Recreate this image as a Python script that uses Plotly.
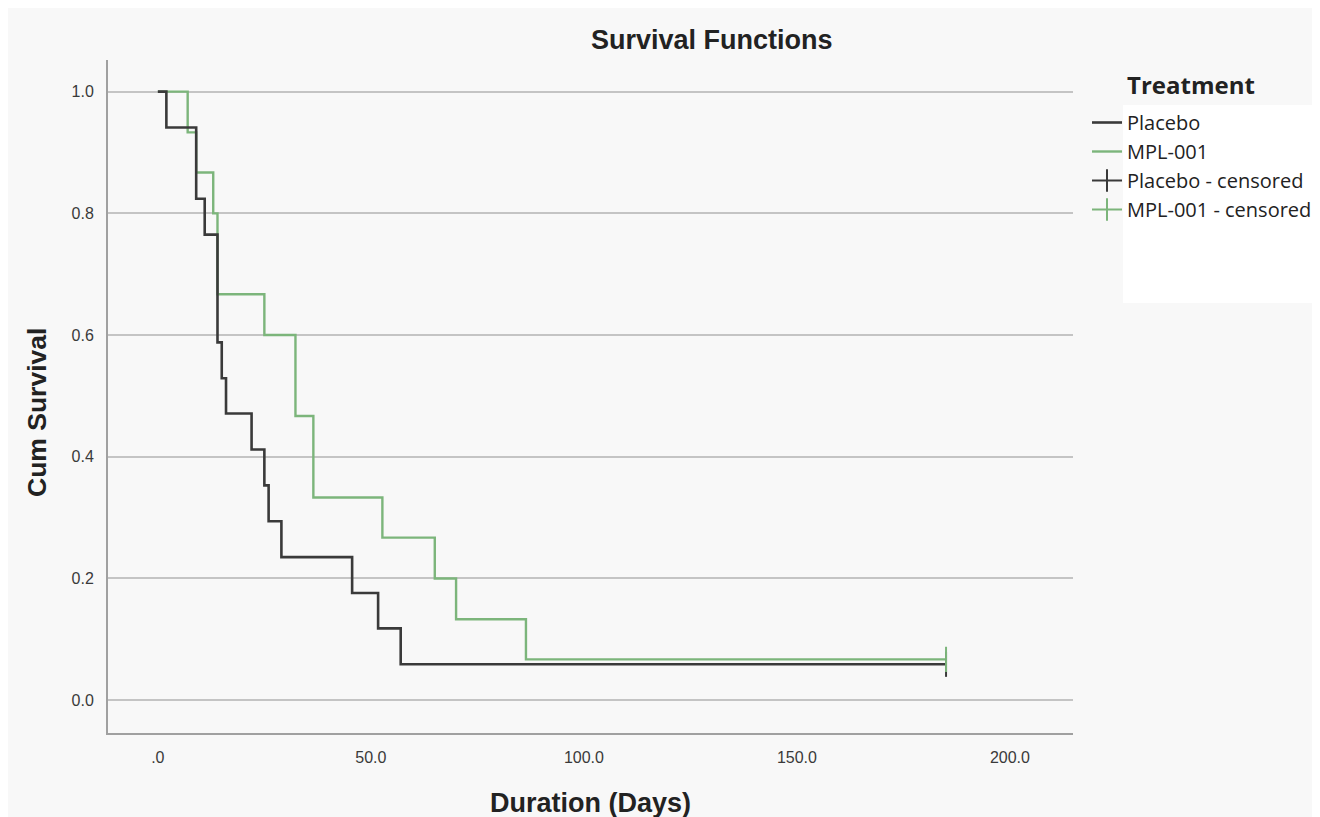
import plotly.graph_objects as go

# ---- data ----
placebo_times = [2, 9, 11, 14, 15, 16, 22, 25, 26, 29, 45.6, 51.7, 57]
placebo_surv = [0.941, 0.824, 0.765, 0.588, 0.529, 0.471, 0.412, 0.353, 0.294, 0.235, 0.176, 0.118, 0.059]
placebo_censor = [185]

mpl_times = [7, 9, 13, 14, 25, 32.3, 36.5, 52.7, 65, 70, 86.4]
mpl_surv = [0.933, 0.867, 0.800, 0.667, 0.600, 0.467, 0.333, 0.267, 0.200, 0.133, 0.067]
mpl_censor = [185]

x_tickvals = [0, 50, 100, 150, 200]
x_ticktext = [".0", "50.0", "100.0", "150.0", "200.0"]
y_tickvals = [0.0, 0.2, 0.4, 0.6, 0.8, 1.0]
y_ticktext = ["0.0", "0.2", "0.4", "0.6", "0.8", "1.0"]

BLACK = "#3a3a3a"
GREEN = "#7cb57b"
OFF = 8  # page body margin
W, H = 1320 - OFF, 817 - OFF
# plot area in page pixels
L, R, T, B = 108, 1073, 60, 733


def px_x(p):
    return (p - L) / (R - L)


def px_y(p):
    return (B - p) / (B - T)


def steps(times, surv, censor):
    xs = [0] + list(times) + [censor[-1]]
    ys = [1.0] + list(surv) + [surv[-1]]
    return xs, ys


fig = go.Figure()

mx, my = steps(mpl_times, mpl_surv, mpl_censor)
bx, by = steps(placebo_times, placebo_surv, placebo_censor)

fig.add_trace(go.Scatter(x=mx, y=my, mode="lines", line=dict(color=GREEN, width=2.4, shape="hv"),
                         name="MPL-001", legendgroup="b", legendrank=2))
fig.add_trace(go.Scatter(x=bx, y=by, mode="lines", line=dict(color=BLACK, width=2.6, shape="hv"),
                         name="Placebo", legendgroup="a", legendrank=1))
fig.add_trace(go.Scatter(x=placebo_censor, y=[placebo_surv[-1]], mode="lines+markers",
                         line=dict(color=BLACK, width=2),
                         marker=dict(symbol="line-ns", size=18, line=dict(color=BLACK, width=2)),
                         name="Placebo - censored", legendgroup="c", legendrank=3))
fig.add_trace(go.Scatter(x=mpl_censor, y=[mpl_surv[-1]], mode="lines+markers",
                         line=dict(color=GREEN, width=2),
                         marker=dict(symbol="line-ns", size=18, line=dict(color=GREEN, width=2)),
                         name="MPL-001 - censored", legendgroup="d", legendrank=4))

tick_font = dict(family="Liberation Sans, Arial", size=16, color="#3a3a3a")

fig.update_layout(
    width=W, height=H,
    margin=dict(l=L - OFF, r=1320 - R, t=T - OFF, b=817 - B, autoexpand=False),
    paper_bgcolor="#f8f8f8",
    plot_bgcolor="#f8f8f8",
    showlegend=True,
    legend=dict(
        x=px_x(1087), xanchor="left", y=px_y(103), yanchor="top",
        bgcolor="rgba(0,0,0,0)",
        font=dict(family="Open Sans, Noto Sans, Arial", size=20, color="#222222"),
        traceorder="grouped", tracegroupgap=0, itemwidth=30,
    ),
    xaxis=dict(
        range=[-11.7, 214.8], tickvals=x_tickvals, ticktext=x_ticktext,
        showgrid=False, zeroline=False, showline=True, linecolor="#a0a0a0", linewidth=2,
        ticks="", tickfont=tick_font, ticklabelstandoff=9,
    ),
    yaxis=dict(
        range=[-0.054, 1.052], tickvals=y_tickvals, ticktext=y_ticktext,
        showgrid=True, gridcolor="#c4c4c4", gridwidth=2, zeroline=False,
        showline=True, linecolor="#a0a0a0", linewidth=2,
        ticks="", tickfont=tick_font, ticklabelstandoff=9,
    ),
    annotations=[
        dict(text="<b>Survival Functions</b>", x=px_x(712), y=px_y(40), xref="paper", yref="paper",
             showarrow=False, xanchor="center", yanchor="middle",
             font=dict(family="Liberation Sans, Arial", size=27, color="#222222")),
        dict(text="<b>Duration (Days)</b>", x=px_x(590), y=px_y(803), xref="paper", yref="paper",
             showarrow=False, xanchor="center", yanchor="middle",
             font=dict(family="Liberation Sans, Arial", size=27, color="#222222")),
        dict(text="<b>Cum Survival</b>", x=px_x(37), y=px_y(413), xref="paper", yref="paper",
             showarrow=False, xanchor="center", yanchor="middle", textangle=-90,
             font=dict(family="Liberation Sans, Arial", size=26.5, color="#222222")),
        dict(text="<b>Treatment</b>", x=px_x(1125), y=px_y(85), xref="paper", yref="paper",
             showarrow=False, xanchor="left", yanchor="middle",
             font=dict(family="Open Sans, Noto Sans, Arial", size=24, color="#222222")),
    ],
    shapes=[
        dict(type="rect", xref="paper", yref="paper", x0=px_x(1123), x1=px_x(1330),
             y0=px_y(303), y1=px_y(105), fillcolor="white", line=dict(width=0), layer="below"),
    ],
)

fig.write_html("out.html")
